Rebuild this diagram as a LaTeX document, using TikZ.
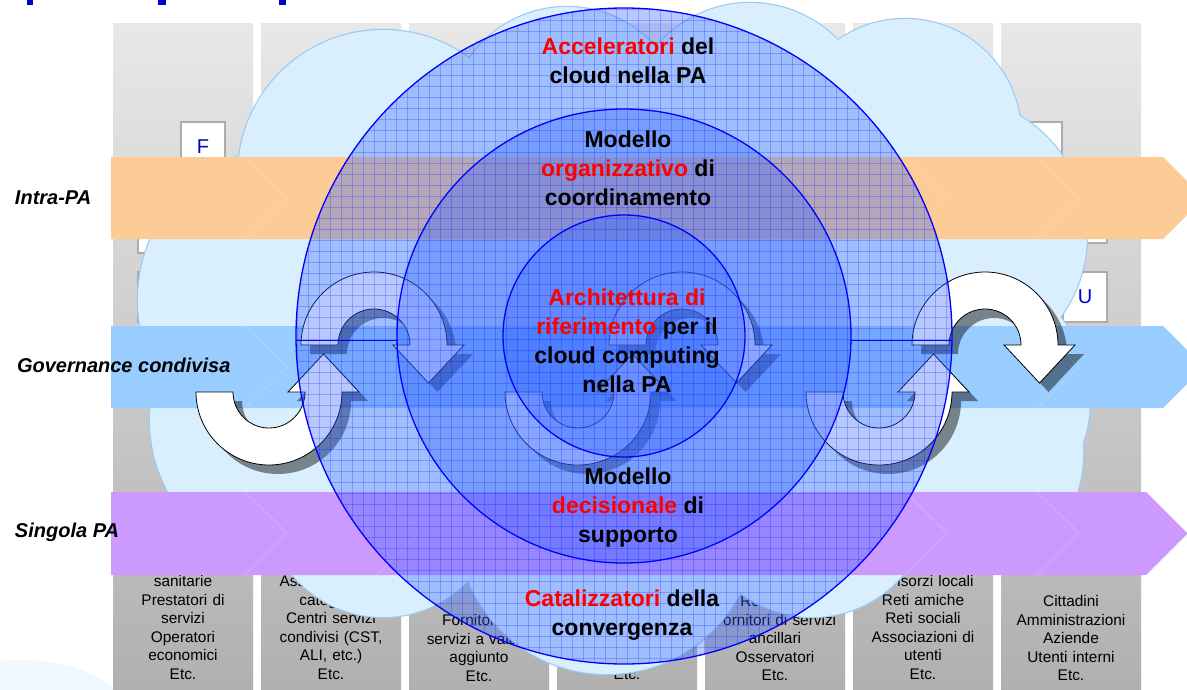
\documentclass[tikz,border=0pt]{standalone}
\usepackage{fontspec}
\setmainfont{Liberation Sans}
\usepackage{tikz}

\definecolor{titleblue}{HTML}{0000CC}
\definecolor{colgraytop}{HTML}{E8E8E8}
\definecolor{colgraybot}{HTML}{B0B0B0}
\definecolor{cloudfill}{HTML}{DAEFFD}
\definecolor{cloudline}{HTML}{9CCBF2}
\definecolor{bandorange}{HTML}{FCCB96}
\definecolor{bandblue}{HTML}{99CCFF}
\definecolor{bandpurple}{HTML}{CC99FF}
\definecolor{ringblue}{RGB}{50,100,255}
\definecolor{keyred}{HTML}{FF0000}

\tikzset{
    every node/.style={inner sep=0pt, outer sep=0pt},
    colbox/.style={top color=colgraytop, bottom color=colgraybot},
    coltext/.style={anchor=north, align=center, text width=140pt, font=\fontsize{15.4}{18.5}\selectfont},
    letterbox/.style={draw=gray!65, line width=1.2pt, fill=white, minimum width=44pt, minimum height=50pt, text=titleblue, font=\fontsize{20}{20}\selectfont},
    cloudrim/.style={draw=cloudline, line width=2.4pt},
    cloudbody/.style={fill=cloudfill},
    chevron/.style={draw=white, draw opacity=0.25, line width=0.6pt},
    bandlabel/.style={anchor=west, font=\fontsize{20}{24}\selectfont\bfseries\itshape},
    turnarrow/.style={fill=white, draw=black, line width=0.8pt},
    turnshadow/.style={fill=black, fill opacity=0.45},
    ring/.style={fill=ringblue, fill opacity=0.35, draw=blue, line width=1.3pt},
    gridline/.style={draw=blue, draw opacity=0.22, line width=0.5pt},
    circtext/.style={align=center, font=\fontsize{23}{29}\selectfont\bfseries}
}
\newcommand{\hlred}[1]{\textcolor{keyred}{#1}}
\newcommand{\cloudbumps}{383/175/145, 567/125/118, 750/125/122, 905/135/116,
    948/235/139, 960/400/130, 965/455/118, 812/498/119, 607/524/150,
    383/499/118, 300/420/150, 291/300/153}
% U-turn arrows: #1,#2 centre of the arc, #3 style
\newcommand{\turnover}[3]{\path[#3] ({#1-73},#2) arc[start angle=180, end angle=360, radius=73]
    -- ({#1+90},#2) -- ({#1+54.5},{#2+38}) -- ({#1+19},#2) -- ({#1+36},#2)
    arc[start angle=0, end angle=-180, radius=36] -- cycle;}
\newcommand{\turnunder}[3]{\path[#3] ({#1-73},#2) arc[start angle=180, end angle=0, radius=73]
    -- ({#1+90},#2) -- ({#1+54.5},{#2-38}) -- ({#1+19},#2) -- ({#1+36},#2)
    arc[start angle=0, end angle=180, radius=36] -- cycle;}

\begin{document}
\begin{tikzpicture}[x=1pt, y=-1pt]
    \useasboundingbox (0,0) rectangle (1187,689);
    \clip (0,0) rectangle (1187,689);

    \fill[cloudfill!45] (20,720) ellipse[x radius=110, y radius=60];
    \fill[titleblue] (27,0) rectangle (33,5);
    \fill[titleblue] (158,0) rectangle (166,5);
    \fill[titleblue] (279,0) rectangle (286,5);

    % columns
    \foreach \k in {0,...,6}
        \fill[colbox] ({113+148*\k},23) rectangle ({253+148*\k},689);

    \node (col1) at (183,575.5) [coltext] {sanitarie\\Prestatori di\\servizi\\Operatori\\economici\\Etc.};
    \node (col2) at (331,575.5) [coltext] {Associazioni di\\categorie\\Centri servizi\\condivisi (CST,\\ALI, etc.)\\Etc.};
    \node (col3) at (479,614.5) [coltext] {Fornitori di\\servizi a valore\\aggiunto\\Etc.};
    \node (col4) at (627,668.5) [coltext] {Etc.};
    \node (col5) at (775,595.5) [coltext] {Reti di PA\\Fornitori di servizi\\ancillari\\Osservatori\\Etc.};
    \node (col6) at (923,575.5) [coltext] {Consorzi locali\\Reti amiche\\Reti sociali\\Associazioni di\\utenti\\Etc.};
    \node (col7) at (1071,595.5) [coltext] {Cittadini\\Amministrazioni\\Aziende\\Utenti interni\\Etc.};

    \node (boxf) at (203,147) [letterbox] {F};
    \node (boxr1) at (1040,147) [letterbox] {};
    \node (boxr2) at (1085,218) [letterbox] {};
    \node (boxu) at (1085,297) [letterbox] {U};
    \node (boxl1) at (160,228) [letterbox] {};
    \node (boxl2) at (160,297) [letterbox] {};

    % cloud
    \foreach \cx/\cy/\cr in \cloudbumps
        \path[cloudrim] (\cx,\cy) circle[radius=\cr];
    \foreach \cx/\cy/\cr in \cloudbumps
        \path[cloudbody] (\cx,\cy) circle[radius=\cr];
    \path[cloudbody] (620,340) ellipse[x radius=330, y radius=200];

    % bands
    \path[fill=bandorange] (111,157) -- (1163,157) -- (1204,198) -- (1163,239) -- (111,239) -- cycle;
    \path[fill=bandblue] (111,326) -- (1163,326) -- (1204,367) -- (1163,408) -- (111,408) -- cycle;
    \path[fill=bandpurple] (111,492) -- (1146,492) -- (1187.5,533.5) -- (1146,575) -- (111,575) -- cycle;
    \foreach \k in {0,...,6} {
        \draw[chevron] ({245+132*\k},157) -- ({287+132*\k},198) -- ({245+132*\k},239);
        \draw[chevron] ({245+132*\k},326) -- ({287+132*\k},367) -- ({245+132*\k},408);
        \draw[chevron] ({245+132*\k},492) -- ({287+132*\k},533) -- ({245+132*\k},575);
    }

    % arrows
    \turnover{383}{354}{turnshadow}
    \turnover{374}{345}{turnarrow}
    \turnover{691}{354}{turnshadow}
    \turnover{682}{345}{turnarrow}
    \turnover{994}{354}{turnshadow}
    \turnover{985}{345}{turnarrow}
    \turnunder{278}{401}{turnshadow}
    \turnunder{269}{392}{turnarrow}
    \turnunder{587}{401}{turnshadow}
    \turnunder{578}{392}{turnarrow}
    \turnunder{888}{401}{turnshadow}
    \turnunder{879}{392}{turnarrow}

    % rings
    \path[ring] (624,336) circle[radius=328];
    \path[ring] (624,336) circle[radius=227];
    \path[ring] (624,336) circle[radius=121];
    \begin{scope}
        \clip (624,336) circle[radius=328];
        \foreach \gx in {297,308,...,952}
            \draw[gridline] (\gx,8) -- (\gx,664);
        \foreach \gy in {9,20,...,664}
            \draw[gridline] (296,\gy) -- (952,\gy);
    \end{scope}
    \draw[blue, line width=1pt] (296,340) -- (398,340);
    \draw[blue, line width=1pt] (850,340) -- (952,340);

    \node (txtacc) at (628,61) [circtext] {\hlred{Acceleratori} del\\cloud nella PA};
    \node (txtorg) at (628,168) [circtext] {Modello\\\hlred{organizzativo} di\\coordinamento};
    \node (txtarch) at (627,341) [circtext] {\hlred{Architettura di}\\\hlred{riferimento} per il\\cloud computing\\nella PA};
    \node (txtdec) at (628,508) [circtext] {Modello\\\hlred{decisionale} di\\supporto};
    \node (txtcat) at (622,615) [circtext] {\hlred{Catalizzatori} della\\convergenza};

    \node (lblintra) at (15,198) [bandlabel] {Intra-PA};
    \node (lblgov) at (17,365) [bandlabel] {Governance condivisa};
    \node (lblsing) at (15,532) [bandlabel] {Singola PA};
\end{tikzpicture}
\end{document}
